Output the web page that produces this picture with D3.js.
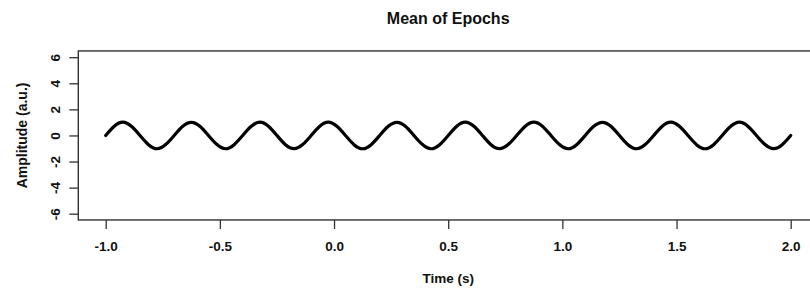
<!DOCTYPE html>
<html>
<head>
<meta charset="utf-8">
<script src="https://cdn.jsdelivr.net/npm/d3@7"></script>
<style>
  body { margin: 0; background: #fff; }
  text { font-family: "Liberation Sans", Arial, sans-serif; font-weight: bold; fill: #111; }
</style>
</head>
<body>
<script>
// Chart size
var svgWidth = 810;
var svgHeight = 290;

// Time samples (s), one every 1/8 of a cycle
var times = [
  -1.0000, -0.9625, -0.9250, -0.8875, -0.8500, -0.8125, -0.7750, -0.7375,
  -0.7000, -0.6625, -0.6250, -0.5875, -0.5500, -0.5125, -0.4750, -0.4375,
  -0.4000, -0.3625, -0.3250, -0.2875, -0.2500, -0.2125, -0.1750, -0.1375,
  -0.1000, -0.0625, -0.0250,  0.0125,  0.0500,  0.0875,  0.1250,  0.1625,
   0.2000,  0.2375,  0.2750,  0.3125,  0.3500,  0.3875,  0.4250,  0.4625,
   0.5000,  0.5375,  0.5750,  0.6125,  0.6500,  0.6875,  0.7250,  0.7625,
   0.8000,  0.8375,  0.8750,  0.9125,  0.9500,  0.9875,  1.0250,  1.0625,
   1.1000,  1.1375,  1.1750,  1.2125,  1.2500,  1.2875,  1.3250,  1.3625,
   1.4000,  1.4375,  1.4750,  1.5125,  1.5500,  1.5875,  1.6250,  1.6625,
   1.7000,  1.7375,  1.7750,  1.8125,  1.8500,  1.8875,  1.9250,  1.9625,
   2.0000
];

// Mean amplitude (a.u.)
var amplitude = [
  0.00, 0.71, 1.02, 0.70, 0.00, -0.71, -1.02, -0.70,
  0.00, 0.71, 1.01, 0.71, 0.00, -0.70, -1.02, -0.71,
  0.00, 0.70, 1.02, 0.71, 0.00, -0.71, -1.01, -0.70,
  0.00, 0.71, 1.02, 0.70, 0.00, -0.71, -1.02, -0.71,
  0.00, 0.70, 1.01, 0.71, 0.00, -0.70, -1.02, -0.71,
  0.00, 0.71, 1.02, 0.70, 0.00, -0.71, -1.01, -0.70,
  0.00, 0.71, 1.02, 0.71, 0.00, -0.70, -1.02, -0.71,
  0.00, 0.70, 1.01, 0.71, 0.00, -0.71, -1.02, -0.70,
  0.00, 0.71, 1.02, 0.70, 0.00, -0.71, -1.02, -0.71,
  0.00, 0.70, 1.02, 0.71, 0.00, -0.70, -1.01, -0.71,
  0.00
];

// Tick values
var xTicks = [-1.0, -0.5, 0.0, 0.5, 1.0, 1.5, 2.0];
var yTicks = [-6, -4, -2, 0, 2, 4, 6];

var data = times.map(function(t, i) {
  return { time: t, amp: amplitude[i] };
});

var svg = d3.select("body")
  .append("svg")
  .attr("width", svgWidth)
  .attr("height", svgHeight);

// R-style scales: 4% padding on each side of the data range
var xScale = d3.scaleLinear()
  .domain([-1, 2])
  .range([105.7, 790.7]);

var yScale = d3.scaleLinear()
  .domain([-6, 6])
  .range([213.7, 57.2]);

var x0 = xScale(-1.12), x1 = xScale(2.12);
var y0 = yScale(-6.48), y1 = yScale(6.48);

// Bottom axis
var bottomAxis = d3.axisBottom(xScale)
  .tickValues(xTicks)
  .tickSize(9)
  .tickPadding(12)
  .tickFormat(function(d) { return d3.format(".1f")(d).replace("−", "-"); });

var gx = svg.append("g")
  .attr("transform", "translate(0," + y0 + ")")
  .call(bottomAxis);
gx.select(".domain").remove();
gx.selectAll("line").attr("stroke", "#333").attr("stroke-width", 1.3);
gx.selectAll("text")
  .attr("font-size", 13.5)
  .attr("font-family", "Liberation Sans, Arial, sans-serif")
  .attr("font-weight", "bold")
  .attr("fill", "#111");

// Left axis, labels parallel to the axis
var leftAxis = d3.axisLeft(yScale)
  .tickValues(yTicks)
  .tickSize(9)
  .tickFormat(function(d) { return String(d); });

var gy = svg.append("g")
  .attr("transform", "translate(" + x0 + ",0)")
  .call(leftAxis);
gy.select(".domain").remove();
gy.selectAll("line").attr("stroke", "#333").attr("stroke-width", 1.3);
gy.selectAll("text")
  .attr("x", null).attr("dy", null)
  .attr("text-anchor", "middle")
  .attr("font-size", 13.5)
  .attr("font-family", "Liberation Sans, Arial, sans-serif")
  .attr("font-weight", "bold")
  .attr("fill", "#111")
  .attr("transform", "translate(" + (59.5 - x0) + ",0) rotate(-90)");

// Plot box
svg.append("rect")
  .attr("x", x0)
  .attr("y", y1)
  .attr("width", x1 - x0)
  .attr("height", y0 - y1)
  .attr("fill", "none")
  .attr("stroke", "#333")
  .attr("stroke-width", 1.4);

// The trace
var drawLine = d3.line()
  .x(function(d) { return xScale(d.time); })
  .y(function(d) { return yScale(d.amp); })
  .curve(d3.curveNatural);

svg.append("path")
  .attr("d", drawLine(data))
  .attr("fill", "none")
  .attr("stroke", "#000")
  .attr("stroke-width", 3.2)
  .attr("stroke-linejoin", "round")
  .attr("stroke-linecap", "round");

// Titles
var cx = (x0 + x1) / 2;

svg.append("text")
  .attr("x", cx)
  .attr("y", 24)
  .attr("text-anchor", "middle")
  .attr("font-size", 16)
  .text("Mean of Epochs");

svg.append("text")
  .attr("x", cx)
  .attr("y", 283)
  .attr("text-anchor", "middle")
  .attr("font-size", 13.5)
  .text("Time (s)");

svg.append("text")
  .attr("transform", "translate(26.5," + ((y0 + y1) / 2) + ") rotate(-90)")
  .attr("text-anchor", "middle")
  .attr("font-size", 14)
  .text("Amplitude (a.u.)");
</script>
</body>
</html>
